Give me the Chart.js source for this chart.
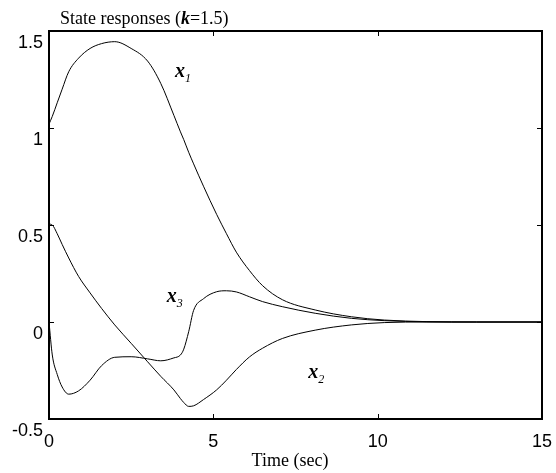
<!DOCTYPE html>
<html>
<head>
<meta charset="utf-8">
<script src="https://cdn.jsdelivr.net/npm/chart.js@4.4.0/dist/chart.umd.min.js"></script>
<style>
  html, body { margin: 0; padding: 0; background: #fff; }
  #wrap { width: 556px; height: 473px; }
</style>
</head>
<body>
<div id="wrap"><canvas id="stateChart"></canvas></div>
<script>
// sample times (sec) and the three state responses
const times    = [0, 0.1, 0.25, 0.4, 0.6, 0.9, 1.25, 1.6, 2.0, 2.5, 3.0, 3.4, 3.8, 4.0, 4.1, 4.25, 4.4, 4.7, 5.1, 5.4, 5.7, 6.1, 6.5, 7.1, 8.1, 9.2, 10.2, 11.5, 13, 15];
const x1Values = [1.02, 1.06, 1.13, 1.2, 1.29, 1.36, 1.41, 1.435, 1.445, 1.41, 1.345, 1.23, 1.065, 0.98, 0.94, 0.875, 0.815, 0.7, 0.555, 0.455, 0.36, 0.265, 0.187, 0.115, 0.062, 0.027, 0.01, 0.002, 0, 0];
const x2Values = [0.505, 0.5, 0.455, 0.4, 0.33, 0.235, 0.15, 0.07, -0.015, -0.11, -0.205, -0.28, -0.35, -0.395, -0.415, -0.435, -0.432, -0.4, -0.35, -0.3, -0.245, -0.18, -0.135, -0.085, -0.042, -0.015, -0.003, 0, 0, 0];
const x3Values = [0, -0.17, -0.27, -0.335, -0.372, -0.355, -0.3, -0.225, -0.182, -0.179, -0.19, -0.2, -0.185, -0.17, -0.14, -0.05, 0.06, 0.12, 0.156, 0.161, 0.155, 0.13, 0.105, 0.079, 0.045, 0.019, 0.007, 0.001, 0, 0];

const xTicks = [0, 5, 10, 15];
const yTicks = [-0.5, 0, 0.5, 1, 1.5];

// curve labels x1, x2, x3 (subscript, time, value of the label anchor)
const labelSubs   = ["1", "2", "3"];
const labelTimes  = [3.83, 7.89, 3.58];
const labelValues = [1.264, -0.29, 0.105];

const serif = '"Liberation Serif", "Times New Roman", serif';
const sans = '"Liberation Sans", Arial, sans-serif';

function series(vals) {
  return times.map((t, i) => ({ x: t, y: vals[i] }));
}

const decor = {
  id: "decor",
  afterDraw(chart) {
    const ctx = chart.ctx;
    const a = chart.chartArea;
    const sx = chart.scales.x, sy = chart.scales.y;
    ctx.save();
    ctx.strokeStyle = "#000";
    ctx.fillStyle = "#000";

    // frame
    ctx.lineWidth = 2;
    ctx.strokeRect(a.left, a.top, a.right - a.left, a.bottom - a.top);

    // inward ticks on all four sides
    ctx.lineWidth = 1;
    ctx.beginPath();
    xTicks.forEach(v => {
      const px = Math.round(sx.getPixelForValue(v)) + 0.5;
      ctx.moveTo(px, a.bottom); ctx.lineTo(px, a.bottom - 5);
      ctx.moveTo(px, a.top); ctx.lineTo(px, a.top + 5);
    });
    yTicks.forEach(v => {
      const py = Math.round(sy.getPixelForValue(v)) + 0.5;
      ctx.moveTo(a.left, py); ctx.lineTo(a.left + 5, py);
      ctx.moveTo(a.right, py); ctx.lineTo(a.right - 5, py);
    });
    ctx.stroke();

    // title with italic k
    ctx.textBaseline = "alphabetic";
    ctx.textAlign = "left";
    let x = 60;
    ctx.font = "18px " + serif;
    ctx.fillText("State responses (", x, 24);
    x += ctx.measureText("State responses (").width;
    ctx.font = "bold italic 18px " + serif;
    ctx.fillText("k", x, 24);
    x += ctx.measureText("k").width;
    ctx.font = "18px " + serif;
    ctx.fillText("=1.5)", x, 24);

    // x axis title
    ctx.textAlign = "center";
    ctx.fillText("Time (sec)", 290, 466);

    // curve labels
    ctx.textAlign = "left";
    labelSubs.forEach((s, i) => {
      const px = sx.getPixelForValue(labelTimes[i]);
      const py = sy.getPixelForValue(labelValues[i]);
      ctx.font = "bold italic 20px " + serif;
      ctx.fillText("x", px, py);
      const w = ctx.measureText("x").width;
      ctx.font = "italic 12px " + serif;
      ctx.fillText(s, px + w, py + 5);
    });
    ctx.restore();
  }
};

const lineStyle = {
  borderColor: "#000",
  borderWidth: 1,
  pointRadius: 0,
  fill: false,
  cubicInterpolationMode: "monotone"
};

new Chart(document.getElementById("stateChart"), {
  type: "line",
  data: {
    datasets: [
      { label: "x1", data: series(x1Values), ...lineStyle },
      { label: "x2", data: series(x2Values), ...lineStyle },
      { label: "x3", data: series(x3Values), ...lineStyle }
    ]
  },
  options: {
    responsive: true,
    maintainAspectRatio: false,
    animation: false,
    devicePixelRatio: 1,
    layout: { padding: { top: 31, right: 14, left: 0, bottom: 0 } },
    plugins: {
      legend: { display: false },
      tooltip: { enabled: false }
    },
    scales: {
      x: {
        type: "linear",
        min: 0,
        max: 15,
        afterBuildTicks: s => { s.ticks = xTicks.map(v => ({ value: v })); },
        afterFit: s => { s.height = 54; s.paddingLeft = 0; s.paddingRight = 0; },
        grid: { display: false, drawTicks: false },
        border: { display: false },
        ticks: {
          color: "#000",
          font: { family: sans, size: 18 },
          padding: 12,
          maxRotation: 0,
          autoSkip: false,
          callback: v => String(v)
        }
      },
      y: {
        min: -0.5,
        max: 1.5,
        afterBuildTicks: s => { s.ticks = yTicks.map(v => ({ value: v })); },
        afterFit: s => { s.width = 49; s.paddingTop = 0; s.paddingBottom = 0; },
        grid: { display: false, drawTicks: false },
        border: { display: false },
        ticks: {
          color: "#000",
          font: { family: sans, size: 18 },
          padding: 6,
          labelOffset: 12,
          autoSkip: false,
          callback: v => String(v)
        }
      }
    }
  },
  plugins: [decor]
});
</script>
</body>
</html>
